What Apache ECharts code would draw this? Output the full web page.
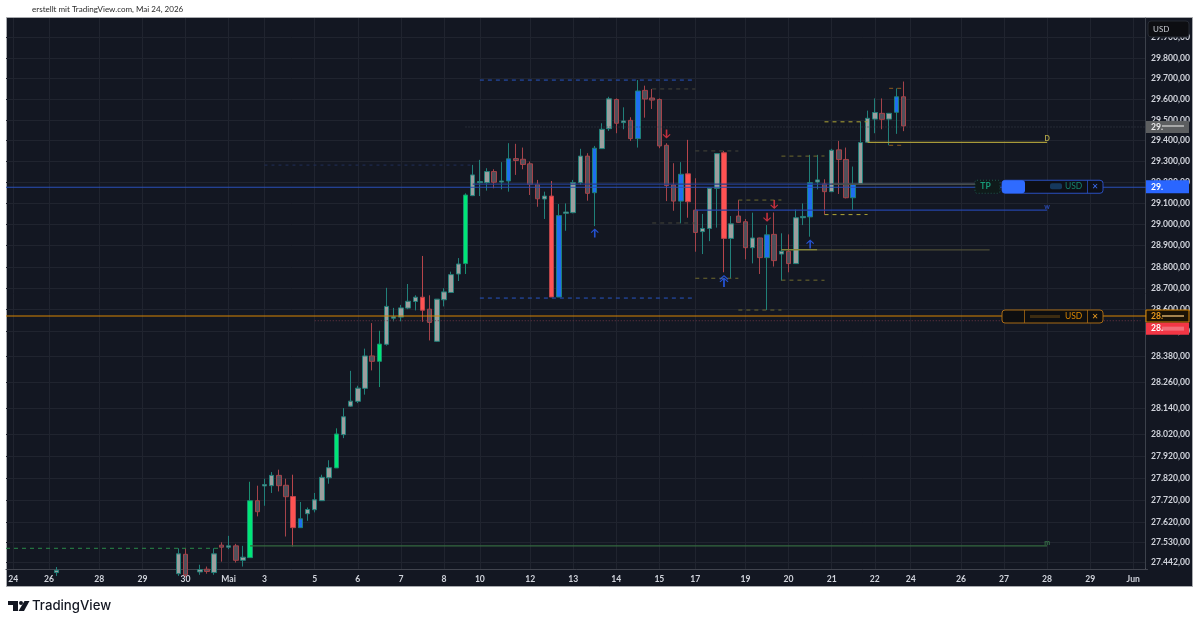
<!DOCTYPE html>
<html><head><meta charset="utf-8">
<style>html,body{margin:0;padding:0;background:#fff}#c{width:1199px;height:626px}</style>
<script src="https://cdn.jsdelivr.net/npm/echarts@6/dist/echarts.min.js"></script>
</head><body><div id="c"></div>
<script>
// ---- candle data (first entry is slot 7, one slot per 4h bar) ----
const firstSlot = 7;
const opens = [27395,null,null,null,null,null,null,null,null,null,null,null,null,null,null,null,null,
27390,27477,null,27398,27410,27395,27518,27509,27515,27450,27462,27719,27786,27787,27834,27789,27738,27597,27660,27678,27719,27823,27868,28020,28151,28173,28233,28383,28358,28437,28559,28564,28606,28637,28657,28601,28451,28645,28679,28766,
28815,29137,29199,29199,29252,29202,29207,29314,29311,29289,29191,29121,29135,28658,29053,29056,29199,29326,29151,29362,29458,29599,29487,29498,29410,29643,29606,29599,29378,29188,29111,29241,29068,28966,28981,29172,29342,28934,29040,29013,28890,28936,28843,28953,28860,28873,28815,29032,29036,29202,29193,29156,29356,29310,29127,29195,29393,29504,29532,29504,29537,29612];
const closes = [27405,null,null,null,null,null,null,null,null,null,null,null,null,null,null,null,null,
27479,27385,null,27408,27400,27479,27509,27515,27450,27464,27719,27669,27792,27834,27787,27737,27597,27637,27679,27723,27825,27869,28023,28102,28174,28234,28383,28358,28438,28614,28565,28607,28638,28657,28596,28539,28648,28682,28763,28813,
29140,29236,29204,29252,29201,29207,29313,29305,29286,29190,29122,29135,28658,29042,29059,29199,29326,29148,29364,29455,29602,29484,29495,29410,29640,29601,29596,29375,29185,29111,29239,29108,28962,28981,29172,29338,28934,29003,29010,28890,28936,28843,28951,28829,28873,28815,29032,29038,29199,29212,29156,29354,29310,29127,29191,29391,29508,29536,29503,29532,29612,29471];
const lows = [27380,null,null,null,null,null,null,null,null,null,null,null,null,null,null,null,null,
27380,27375,null,27385,27390,27385,27444,27500,27440,27422,27462,27648,27696,27754,27761,27557,27512,27597,27628,27666,27719,27796,27868,28004,28147,28165,28204,28316,28239,28431,28544,28544,28601,28595,28542,28455,28448,28614,28679,28733,
28766,29135,29135,29161,29172,29167,29156,29236,29263,29140,29084,29026,28658,28658,28970,29053,29188,29113,28992,29361,29447,29436,29455,29399,29367,29511,29553,29364,29111,29065,29005,29032,28871,28860,28921,28985,28774,28746,29008,28835,28816,28766,28597,28801,28735,28774,28815,28997,28942,29167,29047,29156,29145,29124,29068,29193,29393,29436,29455,29378,29433,29446];
const highs = [27420,null,null,null,null,null,null,null,null,null,null,null,null,null,null,null,null,
27504,27504,null,27430,27422,27504,27531,27560,27524,27515,27805,27787,27819,27849,27860,27819,27837,27713,27688,27754,27837,27903,28049,28142,28314,28245,28417,28536,28500,28701,28607,28621,28719,28666,28851,28666,28648,28699,28777,28841,
29148,29284,29308,29268,29263,29297,29388,29385,29367,29300,29212,29156,29207,29097,29100,29212,29361,29340,29375,29484,29612,29604,29561,29513,29693,29666,29650,29604,29388,29292,29297,29404,29220,29050,29172,29340,29351,29040,29116,29026,29056,28937,28997,29057,28958,28953,29071,29100,29332,29332,29215,29361,29399,29367,29276,29492,29545,29604,29604,29532,29653,29686];
// u normal up, d normal down, G green up, B blue up, R red down, . empty
const kinds = ("u................"+"ud.udududu"+"GduuddRBuuuuGuuuudGuuuuuRduuuu"+"GuuuduBdddduRBuuudBuududBdddddBRduuuRuddudBduduuBududdBuuuduBd").split('');

// ---- axes ----
const slotCount = 160;
const dayLabels = ['24','26','28','29','30','Mai','3','5','6','7','8','10','12','13','14','15','17','19','20','21','22','24','26','27','28','29','Jun'];
const daySlots  = [1,6,13,19,25,31,36,43,49,55,61,66,73,79,85,91,96,103,109,115,121,126,133,139,145,151,157];
const priceTicks = [29900,29800,29700,29600,29500,29400,29300,29200,29100,29000,28900,28800,28700,28600,28500,28380,28260,28140,28020,27920,27820,27720,27620,27530,27442];
const priceMin = 27411, priceMax = 29996;

// ---- drawn levels ----
const levelPrices = [29177,29192,29192,28569,28547,29392,29068,28880,28880,27515,27504,29283,29466,29693,28653,29650,29351,29007,28746,29116,28597,29326,28737,29491,29047,29653,29378];
const levelFrom   = [0,65,115,0,43,120,96,108,113,34,0,36,64,66,66,90,96,90,96,102,102,108,108,114,114,123,123];
const levelTo     = [159,135,135,159,158,145,145,113,137,145,30,65,159,96,96,96,102,96,102,108,108,114,114,120,120,125,125];
const levelStyles = ['pos','tpBlue','tpGrey','stop','redDots','day','week','oliveHi','oliveLo','month','greenDash','navyDash','greyDots','blueDash','blueDash','dimDash','dimDash','dimDash','oliveDash','oliveDash','oliveDash','oliveDash','oliveDash','yellowDash','yellowDash','orangeDash','orangeDash'];

// ---- letters at the ends of levels ----
const tagLetters = ['D','w','m'];
const tagPrices  = [29392,29068,27515];
const tagColors  = ['#d8c850','#2f58d8','#3f8a50'];
const tagSlot = 145;

// ---- signal arrows ----
const arrowSlots  = [82,100,112,92,106,107];
const arrowPrices = [28959,28733,28908,29432,29034,29095];
const arrowKinds  = ['up','upDouble','up','down','down','down'];

// ---- position tags ----
const positionPrice = 29177, stopPrice = 28569, lastPrice = 29466, bidPrice = 28510;

const styleMap = {
  pos:{color:'#2a4fb8',width:1.2,type:'solid'}, tpBlue:{color:'#243f8e',width:1.2,type:'solid'},
  tpGrey:{color:'#55553f',width:1.2,type:'solid'}, stop:{color:'#d98600',width:1.1,type:'solid'},
  redDots:{color:'#6e3644',width:1,type:[1,2]}, day:{color:'#a89a3a',width:1.4,type:'solid'},
  week:{color:'#2545a8',width:1.4,type:'solid'}, oliveHi:{color:'#84843a',width:1.4,type:'solid'},
  oliveLo:{color:'#4c4c36',width:1.2,type:'solid'}, month:{color:'#35693f',width:1.3,type:'solid'},
  greenDash:{color:'#2a8a4a',width:1,type:[4,4]}, navyDash:{color:'#1f2f5a',width:1,type:[3,4]},
  greyDots:{color:'#3a3f4a',width:1,type:[1,2]}, blueDash:{color:'#2650b4',width:1.1,type:[4,4]},
  dimDash:{color:'#45453a',width:1,type:[4,4]}, oliveDash:{color:'#6f6a2e',width:1,type:[4,4]},
  yellowDash:{color:'#a39a35',width:1.1,type:[4,4]}, orangeDash:{color:'#8a5a20',width:1,type:[4,4]}
};
const candleStyle = {
  u:{color:'#9c9e9e',border:'#21807a'}, d:{color:'#50505a',border:'#a5434a'},
  G:{color:'#00e676',border:'#1a8f70'}, B:{color:'#1e6ff0',border:'#1f8078'},
  R:{color:'#ff5252',border:'#b8444a'}
};
const arrowPath = {
  up:'path://M5 0L10 5L9 6L6 3L6 12L4 12L4 3L1 6L0 5Z',
  upDouble:'path://M5 0L10 5L9 6L5 2L1 6L0 5ZM5 3L10 8L9 9L6 6L6 15L4 15L4 6L1 9L0 8Z',
  down:'path://M4 0L6 0L6 9L9 6L10 7L5 12L0 7L1 6L4 9Z'
};

const categories = Array.from({length:slotCount},(_,i)=>{const k=daySlots.indexOf(i);return k<0?'':dayLabels[k];});
const candleData = categories.map((_,i)=>{
  const k=i-firstSlot;
  if(k<0||k>=opens.length||opens[k]==null) return '-';
  const s=candleStyle[kinds[k]];
  return {value:[opens[k],closes[k],lows[k],highs[k]],
    itemStyle:{color:s.color,color0:s.color,borderColor:s.border,borderColor0:s.border,borderColorDoji:s.border,borderWidth:1}};
});
const deFmt = v => Math.floor(v/1000)+'.'+String(v%1000).padStart(3,'0')+',00';
const isDay = (i,v)=> v!=='';

const levelSeries = levelPrices.map((p,i)=>({
  type:'line',data:[[levelFrom[i],p],[levelTo[i],p]],showSymbol:false,symbol:'none',silent:true,animation:false,z:3,
  lineStyle:Object.assign({},styleMap[levelStyles[i]]),clip:true
}));

const chart = echarts.init(document.getElementById('c'),null,{renderer:'canvas'});
const option = {
  animation:false,backgroundColor:'#ffffff',
  textStyle:{fontFamily:'Lato, "Open Sans", sans-serif'},
  grid:{left:6,top:18,width:1141.6,height:551,containLabel:false},
  xAxis:{type:'category',data:categories,boundaryGap:false,
    axisLine:{show:true,onZero:false,lineStyle:{color:'#42454f',width:1}},axisTick:{show:false,interval:isDay},
    axisLabel:{interval:isDay,color:'#d1d4dc',fontSize:8.6,fontWeight:'bold',margin:6,hideOverlap:false,showMinLabel:true,showMaxLabel:true,fontFamily:'Lato'},
    splitLine:{show:true,interval:isDay,lineStyle:{color:'#20242f',width:1}}},
  yAxis:{type:'log',position:'right',offset:-2.6,min:priceMin,max:priceMax,logBase:10,
    axisLine:{show:true,lineStyle:{color:'#5a5e68',width:1}},
    axisTick:{show:false,customValues:priceTicks},
    axisLabel:{customValues:priceTicks,formatter:v=>deFmt(Math.round(v)),color:'#d1d4dc',fontSize:8.6,margin:6,fontFamily:'Lato',fontWeight:'bold',hideOverlap:false},
    splitLine:{show:true,lineStyle:{color:'#20242f',width:1}}},
  series:[
    {type:'candlestick',data:candleData,barWidth:5,clip:true,z:2,silent:true},
    ...levelSeries,
    {type:'scatter',silent:true,z:4,symbolSize:0.1,
      data:tagLetters.map((t,i)=>({value:[tagSlot,tagPrices[i]],label:{show:true,formatter:t,position:'top',distance:0,color:tagColors[i],fontSize:7,fontWeight:'bold'}}))},
    {type:'scatter',silent:true,z:5,
      data:arrowSlots.map((s,i)=>({value:[s,arrowPrices[i]],symbol:arrowPath[arrowKinds[i]],
        symbolSize:arrowKinds[i]==='upDouble'?[9,12]:[8,9],
        itemStyle:{color:arrowKinds[i]==='down'?'#f23645':'#2962ff'}}))}
  ]
};
chart.setOption(option);

const Y = p => chart.convertToPixel({yAxisIndex:0},p);
const yPos=Y(positionPrice), yStop=Y(stopPrice), yLast=Y(lastPrice), yBid=Y(bidPrice);
const rect=(x,y,w,h,fill,extra)=>Object.assign({type:'rect',shape:{x,y,width:w,height:h,r:(extra&&extra.r)||0},style:{fill,stroke:(extra&&extra.stroke)||null,lineWidth:(extra&&extra.lw)||1,lineDash:(extra&&extra.dash)||null,opacity:(extra&&extra.op)||1},silent:true,z:(extra&&extra.z)||10});
const text=(x,y,t,fill,size,extra)=>({type:'text',x,y,silent:true,z:12,style:Object.assign({text:t,fill,font:(extra&&extra.font)||`${size}px Lato`,verticalAlign:'middle',align:(extra&&extra.align)||'left'})});
chart.setOption({graphic:{elements:[
  // panel
  rect(6.5,17.5,1186,569,'#131722',{z:-2,stroke:'#a8aaae'}),
  rect(1145.6,18,3,550.5,'#131722',{z:1}),
  // top text
  text(32,9,'erstellt mit TradingView.com, Mai 24, 2026','#2a2a2a',8,{font:'8.05px Lato'}),
  // USD button
  rect(1148,21,41,16,'#0d0e12',{r:3,stroke:'#262a33',z:10}),
  text(1153,29.5,'USD','#c8cbd2',8,{font:'8px Lato'}),
  // TP tag
  rect(975,yPos-7,25,13,'#0f1a1a',{r:2,stroke:'#1f5a4e',dash:[1,2],z:10}),
  text(985.5,yPos-.5,'TP','#179a78',9,{align:'center',font:'bold 8.5px Lato'}),
  // position box
  rect(1002,yPos-7,101,13,'#0d0f16',{r:3,stroke:'#2a4fc0',z:10}),
  rect(1002,yPos-7,23,13,'#2f6bff',{r:3,z:11}),
  rect(1050,yPos-4,12,6,'#1a4a7a',{r:2,op:.7,z:11}),
  text(1065,yPos-.5,'USD','#16836c',8.5,{font:'8.5px Lato'}),
  rect(1087,yPos-7,.8,13,'#2a4fc0',{z:11}),
  text(1095,yPos-.5,'✕','#3b6cf0',8,{align:'center',font:'8px "DejaVu Sans"'}),
  // stop box
  rect(1002,yStop-6,101,13,'#0d0e10',{r:3,stroke:'#a86a14',z:10}),
  rect(1024,yStop-6,.8,13,'#a86a14',{z:11}),
  rect(1030,yStop-1,30,3,'#4a3412',{op:.8,z:11}),
  text(1065,yStop+.5,'USD','#d98600',8.5,{font:'8.5px Lato'}),
  rect(1087,yStop-6,.8,13,'#a86a14',{z:11}),
  text(1095,yStop+.5,'✕','#e89a20',8,{align:'center',font:'8px "DejaVu Sans"'}),
  // price scale tags
  rect(1146,yLast-6,43,12,'#5c5e60',{z:10}),
  text(1151,yLast,'29.','#e8e8e8',9,{font:'bold 8.6px Lato'}),
  rect(1162,yLast-2,22,2,'#c8c8c8',{op:.7,z:11}),
  rect(1146,yPos-7,43,13,'#2a66ff',{z:10}),
  text(1151,yPos-.5,'29.','#ffffff',9,{font:'bold 8.6px Lato'}),
  rect(1146,yStop-6,43,12,'#1a1206',{stroke:'#d98600',z:10}),
  text(1151,yStop,'28.','#e89a20',9,{font:'bold 8.6px Lato'}),
  rect(1162,yStop-1,22,2,'#c8a060',{op:.8,z:11}),
  rect(1146,yBid-6,43,12,'#f23645',{z:10}),
  text(1151,yBid,'28.','#ffffff',9,{font:'bold 8.6px Lato'}),
  rect(1162,yBid-2,22,4,'#f07a85',{op:.8,z:11}),
  // logo
  {type:'polygon',silent:true,z:10,shape:{points:[[8,601],[18,601],[18,611],[13,611],[13,605],[8,605]]},style:{fill:'#131722'}},
  {type:'circle',silent:true,z:10,shape:{cx:21,cy:603,r:2},style:{fill:'#131722'}},
  {type:'polygon',silent:true,z:10,shape:{points:[[24.5,601],[29.5,601],[24,611],[18.5,611]]},style:{fill:'#131722'}},
  text(32,606.5,'TradingView','#131722',13,{font:'500 13.2px Inter'})
]}});
</script></body></html>
